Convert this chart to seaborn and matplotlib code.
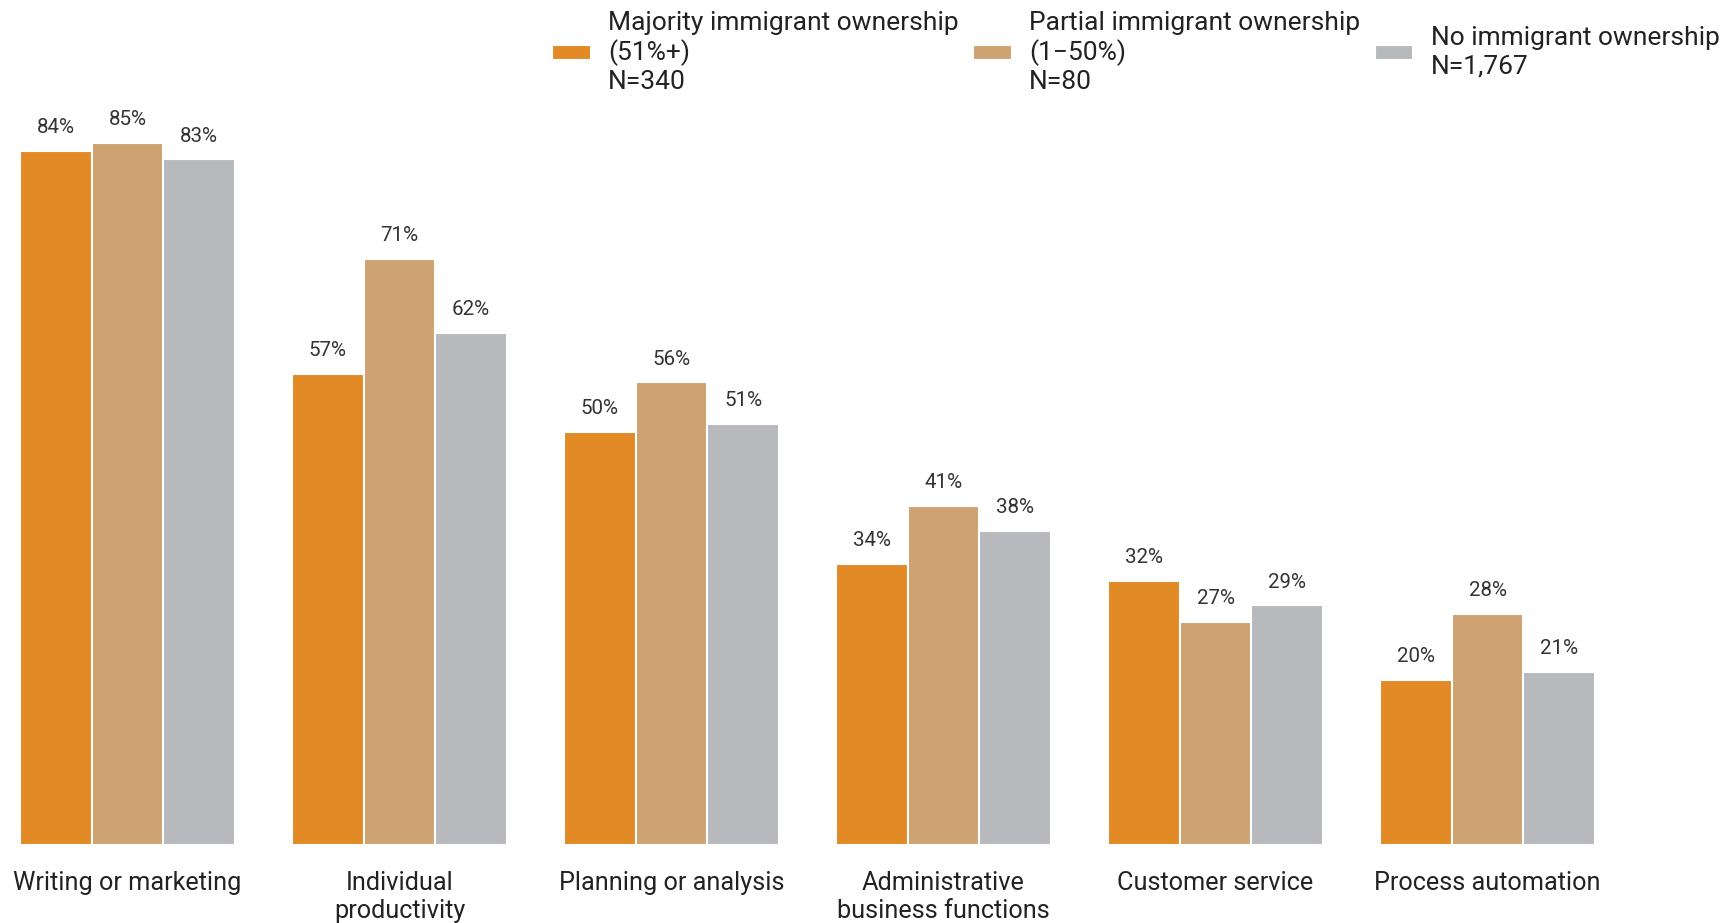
import numpy as np
import pandas as pd
import matplotlib.pyplot as plt
import seaborn as sns

# Data
categories = ["Writing or marketing", "Individual\nproductivity", "Planning or analysis",
              "Administrative\nbusiness functions", "Customer service", "Process automation"]
groups = ["Majority immigrant ownership\n(51%+)\nN=340",
          "Partial immigrant ownership\n(1\u221250%)\nN=80",
          "No immigrant ownership\nN=1,767"]
majority = [84, 57, 50, 34, 32, 20]
partial = [85, 71, 56, 41, 27, 28]
none_ = [83, 62, 51, 38, 29, 21]
colors = ["#E28A26", "#CFA272", "#B8B9BD"]

records = []
for g, vals in zip(groups, [majority, partial, none_]):
    for c, v in zip(categories, vals):
        records.append((c, g, v))
df = pd.DataFrame(records, columns=["category", "group", "value"])

sns.set_style("white")
plt.rcParams['font.family'] = ['Roboto', 'DejaVu Sans']

fig = plt.figure(figsize=(17.32, 9.23), dpi=100)
ax = fig.add_axes([20 / 1732, 78 / 923, 1575 / 1732, 826 / 923])
sns.barplot(data=df, x="category", y="value", hue="group", order=categories,
            hue_order=groups, palette=colors, width=0.79, edgecolor="white",
            linewidth=1.5, saturation=1, ax=ax, legend=True)

for cont in ax.containers:
    ax.bar_label(cont, labels=[f"{int(v)}%" for v in cont.datavalues],
                 padding=10, fontsize=14.8, color="#333333")

ax.set_xlim(-0.395, 5.395)
ax.set_ylim(0, 100)
ax.set(xlabel="", ylabel="")
ax.set_yticks([])
ax.tick_params(axis="x", length=0, pad=19, labelsize=18.2, colors="#222222")
for s in ax.spines.values():
    s.set_visible(False)

handles, labels = ax.get_legend_handles_labels()
ax.get_legend().remove()
fig.legend(handles, labels, loc="upper right", bbox_to_anchor=(1.0065, 1.014), ncol=3,
           frameon=False, fontsize=19, handlelength=1.47, handleheight=0.5,
           handletextpad=0.65, columnspacing=0.55, labelcolor="#222222",
           labelspacing=0.3)

fig.savefig("out.png", dpi=100)
